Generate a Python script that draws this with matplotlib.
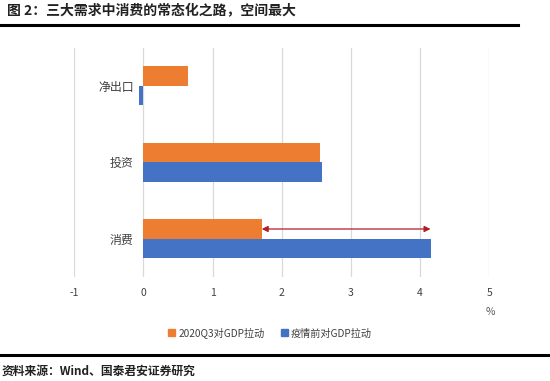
import matplotlib
matplotlib.use("Agg")
import matplotlib.pyplot as plt
from matplotlib.patches import Patch
from matplotlib.lines import Line2D

plt.rcParams['font.family'] = ['Noto Sans CJK SC', 'DejaVu Sans']

categories = ['消费', '投资', '净出口']
q3_2020 = [1.71, 2.55, 0.64]
pre_covid = [4.15, 2.58, -0.07]
xticks = [-1, 0, 1, 2, 3, 4, 5]
series_names = ['2020Q3对GDP拉动', '疫情前对GDP拉动']
title = '图 2：三大需求中消费的常态化之路，空间最大'
source = '资料来源：Wind、国泰君安证券研究'

orange = '#ED7D31'
blue = '#4472C4'

fig = plt.figure(figsize=(5.5, 3.81), dpi=100)
ax = fig.add_axes([74.3/550, 1-277/381, 415/550, 229.3/381])

h = 0.256
ys = list(range(len(categories)))
ax.barh([y + h/2 for y in ys], q3_2020, height=h, color=orange, zorder=3)
ax.barh([y - h/2 for y in ys], pre_covid, height=h, color=blue, zorder=3)

ax.set_xlim(-1, 5)
ax.set_ylim(-0.5, len(categories) - 0.5)
ax.set_xticks(xticks)
ax.set_xticklabels([str(t) for t in xticks])
ax.set_yticks(ys)
ax.set_yticklabels(categories)
for s in ax.spines.values():
    s.set_visible(False)
ax.spines['left'].set_visible(True)
ax.spines['left'].set_color('none')
ax.spines['left'].set_position(('data', 0))
ax.tick_params(axis='both', length=0, colors='#404040')
ax.tick_params(axis='x', pad=8, labelsize=7.5)
ax.tick_params(axis='y', pad=7, labelsize=8.6)
ax.grid(axis='x', color='#D9D9D9', linewidth=0.9, zorder=0)

# arrow between consumption bars
ax.annotate('', xy=(pre_covid[0], ys[0] + h/2), xytext=(q3_2020[0], ys[0] + h/2),
            arrowprops=dict(arrowstyle='<|-|>', color='#B01E23', lw=0.9,
                            mutation_scale=9, shrinkA=0, shrinkB=0), zorder=4)

fig.text(490/550, 1-312/381, '%', ha='center', va='center', fontsize=7.5, color='#595959')

handles = [Patch(color=orange), Patch(color=blue)]
fig.legend(handles, series_names, loc='center', bbox_to_anchor=(270/550, 1-333/381),
           ncol=2, frameon=False, fontsize=7.3, handlelength=0.7, handleheight=0.7,
           handletextpad=0.3, columnspacing=1.6, labelcolor='#404040')

fig.text(7/550, 1-11/381, title, ha='left', va='center', fontsize=10, fontweight='bold', color='#222222')
fig.add_artist(Line2D([0, 518/550], [1-25/381, 1-25/381], color='black', lw=2.2))
fig.add_artist(Line2D([0, 1], [1-355/381, 1-355/381], color='black', lw=2.2))
fig.text(2/550, 1-371/381, source, ha='left', va='center', fontsize=8.5, fontweight='bold', color='#222222')

fig.savefig('out.png', dpi=100)
